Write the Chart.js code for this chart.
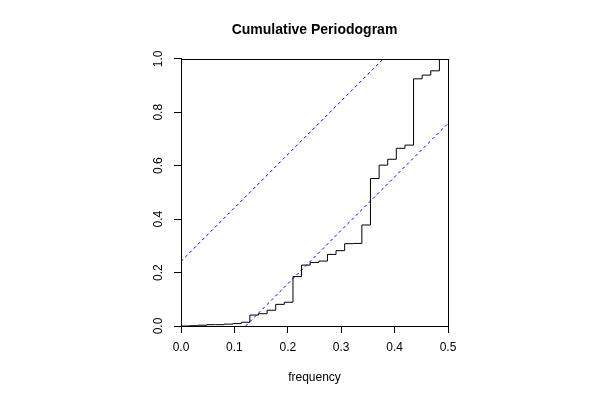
<!DOCTYPE html>
<html>
<head>
<meta charset="utf-8">
<script src="https://cdn.jsdelivr.net/npm/chart.js@4"></script>
<style>
  html, body { margin: 0; padding: 0; background: #fff; }
</style>
</head>
<body>
<canvas id="cpgram" width="600" height="400"></canvas>
<script>
// frequencies k/62 (series length 62)
var freqs = [0, 0.0161, 0.0323, 0.0484, 0.0645, 0.0806, 0.0968, 0.1129, 0.1290, 0.1452,
	0.1613, 0.1774, 0.1935, 0.2097, 0.2258, 0.2419, 0.2581, 0.2742, 0.2903, 0.3065,
	0.3226, 0.3387, 0.3548, 0.3710, 0.3871, 0.4032, 0.4194, 0.4355, 0.4516, 0.4677, 0.4839];
// cumulative periodogram values
var cumPgram = [0, 0.001, 0.003, 0.005, 0.005, 0.007, 0.009, 0.014, 0.041, 0.046,
	0.059, 0.081, 0.089, 0.185, 0.228, 0.238, 0.243, 0.268, 0.282, 0.308,
	0.309, 0.378, 0.552, 0.602, 0.624, 0.665, 0.677, 0.925, 0.939, 0.955, 1.0];
// confidence band lines (start / end points)
var upperX = [0, 0.379];
var upperY = [0.242, 1];
var lowerX = [0.121, 0.5];
var lowerY = [0, 0.758];
var xTicks = [0, 0.1, 0.2, 0.3, 0.4, 0.5];
var yTicks = [0, 0.2, 0.4, 0.6, 0.8, 1.0];

function toPoints(xs, ys) {
	return xs.map(function (x, i) { return { x: x, y: ys[i] }; });
}

// draw the full box round the plot region, like R's box()
var boxPlugin = {
	id: 'box',
	afterDraw: function (chart) {
		var a = chart.chartArea, ctx = chart.ctx;
		ctx.save();
		ctx.strokeStyle = '#000';
		ctx.lineWidth = 1;
		ctx.strokeRect(Math.round(a.left) + 0.5, Math.round(a.top) + 0.5,
			Math.round(a.right - a.left), Math.round(a.bottom - a.top));
		ctx.restore();
	}
};

var font = { family: '"Liberation Sans", Arial, sans-serif', size: 12 };

new Chart(document.getElementById('cpgram'), {
	type: 'scatter',
	data: {
		datasets: [{
			data: toPoints(freqs, cumPgram),
			showLine: true,
			stepped: true,
			borderColor: '#000',
			borderWidth: 1,
			pointRadius: 0
		}, {
			data: toPoints(upperX, upperY),
			showLine: true,
			borderColor: '#0000ff',
			borderWidth: 1,
			borderDash: [3, 3],
			pointRadius: 0
		}, {
			data: toPoints(lowerX, lowerY),
			showLine: true,
			borderColor: '#0000ff',
			borderWidth: 1,
			borderDash: [3, 3],
			pointRadius: 0
		}]
	},
	options: {
		responsive: false,
		animation: false,
		devicePixelRatio: 1,
		layout: { padding: { left: 0, right: 152, top: 0, bottom: 0 } },
		plugins: {
			legend: { display: false },
			tooltip: { enabled: false },
			title: {
				display: true,
				text: 'Cumulative Periodogram',
				fullSize: false,
				color: '#000',
				font: { family: font.family, size: 14, weight: 'bold' },
				padding: { top: 22, bottom: 20 }
			}
		},
		scales: {
			x: {
				type: 'linear',
				min: 0, max: 0.5,
				afterBuildTicks: function (s) { s.ticks = xTicks.map(function (v) { return { value: v }; }); },
				afterFit: function (s) { s.height = 74; },
				grid: { drawOnChartArea: false, tickLength: 7, color: '#000', tickColor: '#000' },
				border: { color: '#000' },
				ticks: {
					color: '#000', font: font, padding: 7, maxRotation: 0,
					callback: function (v) { return v.toFixed(1); }
				},
				title: {
					display: true, text: 'frequency', color: '#000', font: font,
					padding: { top: 0, bottom: 15 }
				}
			},
			y: {
				type: 'linear',
				min: 0, max: 1,
				afterBuildTicks: function (s) { s.ticks = yTicks.map(function (v) { return { value: v }; }); },
				afterFit: function (s) { s.width = 181; },
				grid: { drawOnChartArea: false, tickLength: 7, color: '#000', tickColor: '#000' },
				border: { color: '#000' },
				ticks: {
					color: '#000', font: font, padding: 7, minRotation: 90, maxRotation: 90,
					crossAlign: 'center',
					callback: function (v) { return v.toFixed(1); }
				}
			}
		}
	},
	plugins: [boxPlugin]
});
</script>
</body>
</html>
